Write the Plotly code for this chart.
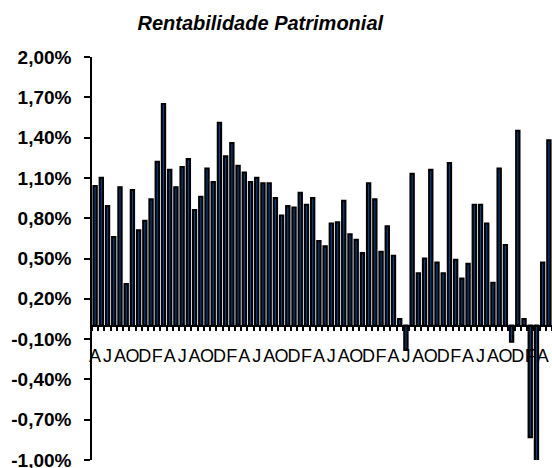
import plotly.graph_objects as go

# monthly return on equity (%), first bar = April
rentabilidade = [
    1.04, 1.10, 0.89, 0.66, 1.03, 0.31, 1.01, 0.71, 0.78, 0.94, 1.22, 1.65,
    1.16, 1.03, 1.18, 1.24, 0.86, 0.96, 1.17, 1.07, 1.51, 1.26, 1.36, 1.19,
    1.14, 1.07, 1.10, 1.06, 1.06, 0.95, 0.82, 0.89, 0.88, 0.99, 0.90, 0.95,
    0.63, 0.59, 0.76, 0.77, 0.93, 0.68, 0.64, 0.54, 1.06, 0.94, 0.55, 0.74,
    0.52, 0.05, -0.18, 1.13, 0.39, 0.50, 1.16, 0.47, 0.39, 1.21, 0.49, 0.35,
    0.46, 0.90, 0.90, 0.76, 0.32, 1.17, 0.60, -0.12, 1.45, 0.05, -0.83, -1.05,
    0.47, 1.38,
]
meses = ["A", "J", "A", "O", "D", "F"] * 6 + ["A"]
y_ticks = [2.0, 1.7, 1.4, 1.1, 0.8, 0.5, 0.2, -0.1, -0.4, -0.7, -1.0]
y_labels = ["2,00%", "1,70%", "1,40%", "1,10%", "0,80%", "0,50%", "0,20%",
            "-0,10%", "-0,40%", "-0,70%", "-1,00%"]

x = list(range(len(rentabilidade)))
FONT = "Liberation Sans, Arial, sans-serif"

fig = go.Figure(go.Bar(
    x=x, y=rentabilidade,
    marker=dict(color="#0e3f80", line=dict(color="black", width=2.1)),
    showlegend=False, hoverinfo="y",
))

fig.update_layout(
    width=552, height=468,
    paper_bgcolor="white", plot_bgcolor="white",
    margin=dict(l=92, r=0, t=56.5, b=7.8),
    bargap=0.47,
    font=dict(family=FONT, color="black"),
    title=dict(text="<b><i>Rentabilidade Patrimonial</i></b>",
               font=dict(size=20, family=FONT, color="black"),
               xref="container", x=0.4715, xanchor="center",
               yref="container", y=0.951, yanchor="middle"),
    xaxis=dict(
        range=[-0.5, len(rentabilidade) - 0.5],
        anchor="free", position=1/3, automargin=False,
        showline=True, linecolor="black", linewidth=1.5,
        showgrid=False, zeroline=False,
        tickvals=x[::2], ticktext=meses, tickangle=0,
        ticks="", tickfont=dict(size=18, family=FONT, color="black"),
        ticklabelstandoff=14, ticklabeloverflow="allow",
        minor=dict(ticks="outside", ticklen=5, tickwidth=1.5, tickcolor="black",
                   tick0=-0.5, dtick=1, showgrid=False),
    ),
    yaxis=dict(
        range=[-1.0, 2.0], automargin=False,
        showline=True, linecolor="black", linewidth=1.5,
        showgrid=False, zeroline=False,
        tickvals=y_ticks, ticktext=["<b>%s</b>" % t for t in y_labels],
        ticks="outside", ticklen=6, tickwidth=1.5, tickcolor="black",
        tickfont=dict(size=19, family=FONT, color="black"),
        ticklabelstandoff=9, ticklabeloverflow="allow",
    ),
)

# drop the default page margin so the figure fills the window exactly
fig.write_html("out.html", config={"displayModeBar": False},
               post_script="document.body.style.margin='0';document.body.style.overflow='hidden';")
